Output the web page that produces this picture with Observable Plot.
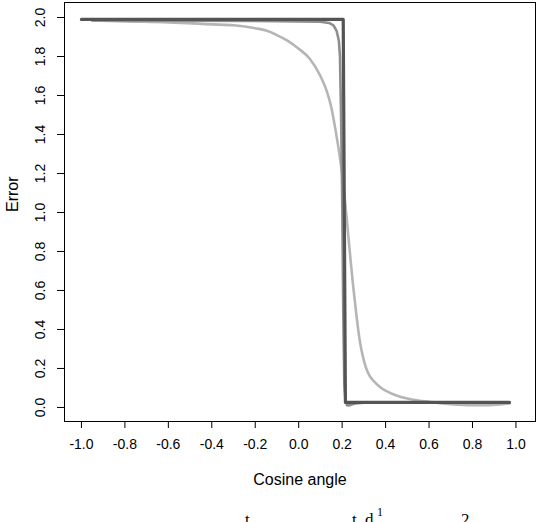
<!DOCTYPE html>
<html>
<head>
<meta charset="utf-8">
<script src="https://cdn.jsdelivr.net/npm/d3@7"></script>
<script src="https://cdn.jsdelivr.net/npm/@observablehq/plot@0.6"></script>
<style>
  html, body { margin: 0; padding: 0; background: #fff; }
  #wrap { position: relative; width: 536px; height: 522px; overflow: hidden; }
  #frag { position: absolute; left: 0; top: 510px; width: 536px; font-family: "Liberation Serif", serif; font-size: 17px; color: #000; }
  #frag span { position: absolute; }
</style>
</head>
<body>
<div id="wrap">
  <div id="chart"></div>
  <div id="frag"><span style="left:245px">t</span><span style="left:352px">t</span><span style="left:365px">d</span><span style="left:377px;top:-5px;font-size:12px">1</span><span style="left:461px">2</span></div>
</div>
<script>
// Tick labels
const xTicks = [-1.0, -0.8, -0.6, -0.4, -0.2, 0.0, 0.2, 0.4, 0.6, 0.8, 1.0];
const yTicks = [0.0, 0.2, 0.4, 0.6, 0.8, 1.0, 1.2, 1.4, 1.6, 1.8, 2.0];

// Series: light gray smooth curve
const lightX = [-0.95, -0.8, -0.6, -0.4, -0.3, -0.2, -0.15, -0.1, -0.05, 0.0, 0.05, 0.1, 0.13, 0.15, 0.17, 0.19, 0.205, 0.22, 0.235, 0.25, 0.265, 0.28, 0.3, 0.32, 0.35, 0.38, 0.42, 0.46, 0.5, 0.55, 0.6, 0.65, 0.7, 0.76, 0.82, 0.88, 0.93, 0.97];
const lightY = [1.985, 1.98, 1.975, 1.965, 1.96, 1.945, 1.933, 1.91, 1.88, 1.84, 1.79, 1.70, 1.62, 1.54, 1.42, 1.28, 1.15, 0.98, 0.80, 0.63, 0.48, 0.35, 0.24, 0.175, 0.13, 0.10, 0.075, 0.058, 0.046, 0.036, 0.029, 0.022, 0.017, 0.013, 0.011, 0.012, 0.015, 0.02];

// Series: medium gray steep curve
const medX = [-0.95, -0.6, -0.2, 0.0, 0.1, 0.14, 0.16, 0.175, 0.185, 0.19, 0.195, 0.2, 0.205, 0.21, 0.215, 0.222, 0.23, 0.24, 0.26, 0.3, 0.5, 0.7, 0.97];
const medY = [1.985, 1.984, 1.982, 1.98, 1.978, 1.972, 1.96, 1.93, 1.88, 1.8, 1.5, 1.1, 0.5, 0.12, 0.04, 0.012, 0.01, 0.014, 0.02, 0.024, 0.025, 0.026, 0.026];

// Series: dark step curve
const darkX = [-1.0, -0.5, 0.0, 0.205, 0.215, 0.5, 0.97];
const darkY = [1.99, 1.99, 1.99, 1.99, 0.026, 0.026, 0.026];

const toRows = (xs, ys) => xs.map((x, i) => ({x, y: ys[i]}));
const light = toRows(lightX, lightY);
const med = toRows(medX, medY);
const dark = toRows(darkX, darkY);

const fmt = d => d.toFixed(1);

const chart = Plot.plot({
  width: 536,
  height: 522,
  marginLeft: 64,
  marginRight: 1,
  marginTop: 2,
  marginBottom: 101,
  style: {fontFamily: "'Liberation Sans', Arial, sans-serif", fontSize: "14px", background: "#fff", color: "#000"},
  x: {domain: [-1.078, 1.09]},
  y: {domain: [-0.072, 2.077]},
  marks: [
    Plot.frame({stroke: "#000", strokeWidth: 1}),
    Plot.axisX(xTicks, {tickSize: 7, tickPadding: 11, tickFormat: fmt, fontSize: 14, label: null, stroke: "#000"}),
    Plot.axisY(yTicks, {tickSize: 7, tickFormat: () => "", label: null, stroke: "#000"}),
    Plot.text(yTicks, {y: d => d, text: fmt, frameAnchor: "left", dx: -24, rotate: -90, textAnchor: "middle", lineAnchor: "middle", fontSize: 14, fill: "#000"}),
    Plot.text(["Cosine angle"], {frameAnchor: "bottom", dy: 58, text: d => d, fontSize: 16, lineAnchor: "middle", fill: "#000"}),
    Plot.text(["Error"], {frameAnchor: "left", dx: -52, text: d => d, rotate: -90, fontSize: 16, lineAnchor: "middle", fill: "#000"}),
    Plot.line(light, {x: "x", y: "y", stroke: "#b5b5b5", strokeWidth: 2.6, curve: "monotone-x"}),
    Plot.line(med, {x: "x", y: "y", stroke: "#8e8e8e", strokeWidth: 2.6, curve: "linear"}),
    Plot.line(dark, {x: "x", y: "y", stroke: "#545454", strokeWidth: 3.2, curve: "linear"})
  ]
});
document.getElementById("chart").appendChild(chart);
</script>
</body>
</html>
